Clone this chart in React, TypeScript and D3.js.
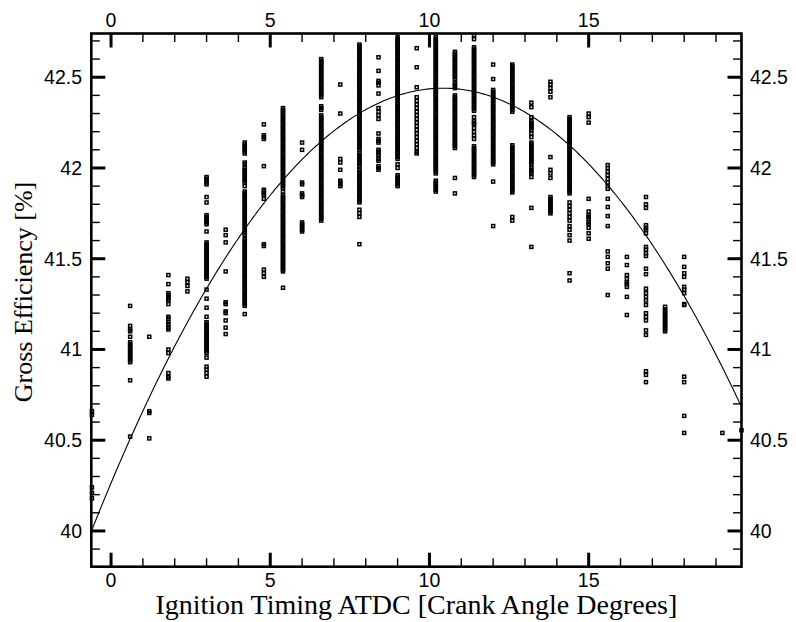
import React from "react";
import * as d3 from "d3";

const W = 796;
const H = 622;

// axis domains and ticks
const xDomain = [-0.62, 19.8];
const yDomain = [39.803, 42.741];
const xMajorTicks = [0, 5, 10, 15];
const xMinorTicks = [1, 2, 3, 4, 6, 7, 8, 9, 11, 12, 13, 14, 16, 17, 18, 19];
const yMajorTicks = [40, 40.5, 41, 41.5, 42, 42.5];
const yMinorTicks = [39.9, 40.1, 40.2, 40.3, 40.4, 40.6, 40.7, 40.8, 40.9, 41.1, 41.2, 41.3, 41.4, 41.6, 41.7, 41.8, 41.9, 42.1, 42.2, 42.3, 42.4, 42.6, 42.7];

// quadratic fit: y = c0 + c1*x + c2*x^2
const fitCoefficients = [40.264, 0.4172, -0.02];

// measured gross efficiency per ignition timing column
const colM06 = [40.66, 40.64, 40.24, 40.21, 40.18];
const col0_6 = [41.24, 41.13, 41.11, 41.1, 41.07, 41.04, 41.03, 41.02, 41.01, 41.0, 40.99, 40.98, 40.97, 40.96, 40.95, 40.94, 40.93, 40.83, 40.52];
const col1_2 = [41.07, 40.66, 40.65, 40.51];
const col1_8 = [41.41, 41.36, 41.31, 41.3, 41.29, 41.28, 41.27, 41.25, 41.18, 41.17, 41.15, 41.14, 41.12, 41.11, 41.0, 40.98, 40.87, 40.85, 40.84];
const col2_4 = [41.39, 41.37, 41.35, 41.32];
const col3_0 = [41.95, 41.94, 41.93, 41.92, 41.91, 41.84, 41.81, 41.74, 41.73, 41.72, 41.71, 41.7, 41.69, 41.65, 41.59, 41.58, 41.57, 41.56, 41.55, 41.54, 41.53, 41.52, 41.51, 41.5, 41.49, 41.48, 41.47, 41.46, 41.45, 41.44, 41.43, 41.42, 41.41, 41.4, 41.39, 41.33, 41.28, 41.23, 41.18, 41.15, 41.14, 41.13, 41.12, 41.11, 41.1, 41.09, 41.08, 41.07, 41.06, 41.05, 41.04, 41.03, 41.02, 41.01, 41.0, 40.99, 40.98, 40.955, 40.905, 40.89, 40.87, 40.85];
const col3_6 = [41.66, 41.63, 41.59, 41.43, 41.26, 41.25, 41.21, 41.2, 41.16, 41.12, 41.085];
const col4_2 = [42.14, 42.13, 42.12, 42.11, 42.1, 42.09, 42.08, 42.03, 42.02, 42.0, 41.99, 41.98, 41.97, 41.96, 41.95, 41.94, 41.93, 41.92, 41.9, 41.87, 41.86, 41.85, 41.84, 41.83, 41.82, 41.81, 41.8, 41.79, 41.78, 41.77, 41.76, 41.75, 41.74, 41.73, 41.72, 41.71, 41.7, 41.69, 41.68, 41.67, 41.66, 41.65, 41.64, 41.63, 41.61, 41.6, 41.59, 41.58, 41.57, 41.56, 41.55, 41.54, 41.53, 41.52, 41.51, 41.5, 41.49, 41.48, 41.47, 41.46, 41.45, 41.44, 41.43, 41.42, 41.41, 41.4, 41.39, 41.38, 41.37, 41.36, 41.35, 41.34, 41.33, 41.32, 41.31, 41.3, 41.29, 41.28, 41.27, 41.26, 41.25, 41.24, 41.195];
const col4_8 = [42.24, 42.18, 42.17, 42.16, 42.01, 41.88, 41.87, 41.86, 41.85, 41.83, 41.58, 41.57, 41.44, 41.42, 41.4];
const col5_4 = [42.33, 42.32, 42.31, 42.3, 42.29, 42.28, 42.27, 42.26, 42.25, 42.24, 42.23, 42.22, 42.21, 42.2, 42.19, 42.18, 42.17, 42.16, 42.15, 42.14, 42.13, 42.12, 42.11, 42.1, 42.09, 42.08, 42.07, 42.06, 42.05, 42.04, 42.03, 42.02, 42.01, 42.0, 41.99, 41.98, 41.97, 41.96, 41.95, 41.94, 41.93, 41.92, 41.91, 41.9, 41.89, 41.87, 41.85, 41.84, 41.83, 41.82, 41.81, 41.8, 41.79, 41.78, 41.77, 41.76, 41.75, 41.74, 41.73, 41.72, 41.71, 41.7, 41.69, 41.68, 41.67, 41.66, 41.65, 41.64, 41.63, 41.62, 41.61, 41.6, 41.59, 41.58, 41.57, 41.56, 41.55, 41.54, 41.53, 41.52, 41.51, 41.5, 41.49, 41.48, 41.47, 41.46, 41.45, 41.44, 41.43, 41.34];
const col6_0 = [42.14, 42.1, 41.92, 41.91, 41.86, 41.85, 41.84, 41.7, 41.69, 41.68, 41.67, 41.66, 41.65];
const col6_6 = [42.6, 42.59, 42.58, 42.57, 42.56, 42.55, 42.54, 42.53, 42.52, 42.51, 42.5, 42.49, 42.48, 42.47, 42.46, 42.45, 42.44, 42.43, 42.42, 42.41, 42.4, 42.39, 42.34, 42.33, 42.32, 42.29, 42.28, 42.27, 42.26, 42.25, 42.24, 42.23, 42.22, 42.21, 42.2, 42.19, 42.18, 42.17, 42.16, 42.15, 42.14, 42.13, 42.12, 42.11, 42.1, 42.09, 42.08, 42.07, 42.06, 42.05, 42.04, 42.03, 42.02, 42.01, 42.0, 41.99, 41.98, 41.97, 41.96, 41.95, 41.94, 41.93, 41.92, 41.91, 41.9, 41.89, 41.88, 41.87, 41.86, 41.85, 41.84, 41.83, 41.82, 41.81, 41.8, 41.79, 41.78, 41.77, 41.76, 41.75, 41.74, 41.73, 41.72, 41.71];
const col7_2 = [42.46, 42.3, 42.05, 42.03, 41.99, 41.93, 41.92, 41.91, 41.9];
const col7_8 = [42.68, 42.67, 42.66, 42.65, 42.64, 42.63, 42.62, 42.61, 42.6, 42.59, 42.58, 42.57, 42.56, 42.55, 42.54, 42.53, 42.52, 42.51, 42.5, 42.49, 42.48, 42.47, 42.46, 42.45, 42.44, 42.43, 42.42, 42.41, 42.4, 42.39, 42.38, 42.37, 42.36, 42.35, 42.34, 42.33, 42.32, 42.31, 42.3, 42.29, 42.28, 42.27, 42.26, 42.25, 42.24, 42.23, 42.22, 42.21, 42.2, 42.19, 42.18, 42.17, 42.16, 42.15, 42.14, 42.13, 42.12, 42.11, 42.1, 42.08, 42.07, 42.06, 42.05, 42.04, 42.03, 42.02, 42.01, 41.99, 41.98, 41.97, 41.96, 41.95, 41.94, 41.93, 41.92, 41.91, 41.9, 41.89, 41.88, 41.87, 41.86, 41.85, 41.84, 41.83, 41.82, 41.81, 41.77, 41.75, 41.73, 41.58];
const col8_4 = [42.61, 42.535, 42.48, 42.47, 42.455, 42.41, 42.33, 42.31, 42.29, 42.27, 42.19, 42.16, 42.15, 42.14, 42.1, 42.09, 42.08, 42.07, 42.05, 42.04, 42.01, 42.0, 41.99];
const col9_0 = [42.72, 42.71, 42.7, 42.69, 42.68, 42.67, 42.66, 42.65, 42.64, 42.63, 42.62, 42.61, 42.6, 42.59, 42.58, 42.57, 42.56, 42.55, 42.54, 42.53, 42.52, 42.51, 42.5, 42.49, 42.48, 42.47, 42.46, 42.45, 42.44, 42.43, 42.42, 42.41, 42.4, 42.39, 42.38, 42.37, 42.36, 42.35, 42.34, 42.33, 42.32, 42.31, 42.3, 42.29, 42.28, 42.27, 42.26, 42.25, 42.24, 42.23, 42.22, 42.21, 42.2, 42.19, 42.18, 42.17, 42.16, 42.15, 42.14, 42.13, 42.12, 42.11, 42.1, 42.09, 42.08, 42.07, 42.06, 42.05, 42.02, 42.0, 41.96, 41.95, 41.94, 41.93, 41.92, 41.91, 41.9];
const col9_6 = [42.66, 42.555, 42.445, 42.39, 42.37, 42.35, 42.33, 42.31, 42.29, 42.27, 42.25, 42.23, 42.21, 42.19, 42.17, 42.15, 42.13, 42.11, 42.09, 42.08];
const col10_2 = [42.72, 42.71, 42.7, 42.69, 42.68, 42.67, 42.66, 42.65, 42.64, 42.63, 42.62, 42.61, 42.6, 42.59, 42.58, 42.57, 42.56, 42.55, 42.54, 42.53, 42.52, 42.51, 42.5, 42.49, 42.48, 42.47, 42.46, 42.45, 42.44, 42.43, 42.42, 42.41, 42.4, 42.39, 42.38, 42.37, 42.36, 42.35, 42.34, 42.33, 42.32, 42.31, 42.3, 42.29, 42.28, 42.27, 42.26, 42.25, 42.24, 42.23, 42.22, 42.21, 42.2, 42.19, 42.18, 42.17, 42.16, 42.15, 42.14, 42.13, 42.12, 42.11, 42.1, 42.09, 42.08, 42.07, 42.06, 42.05, 42.04, 42.03, 42.02, 42.01, 42.0, 41.99, 41.98, 41.97, 41.93, 41.92, 41.91, 41.9, 41.89, 41.88, 41.87];
const col10_8 = [42.64, 42.63, 42.62, 42.61, 42.6, 42.59, 42.58, 42.57, 42.56, 42.55, 42.54, 42.53, 42.52, 42.51, 42.5, 42.49, 42.47, 42.46, 42.45, 42.44, 42.4, 42.39, 42.38, 42.37, 42.36, 42.35, 42.34, 42.33, 42.32, 42.31, 42.3, 42.29, 42.28, 42.27, 42.26, 42.25, 42.24, 42.23, 42.22, 42.21, 42.2, 42.19, 42.18, 42.17, 42.16, 42.15, 42.14, 42.13, 42.12, 42.11, 41.945, 41.86];
const col11_4 = [42.73, 42.71, 42.665, 42.655, 42.645, 42.635, 42.625, 42.615, 42.605, 42.595, 42.585, 42.575, 42.565, 42.555, 42.545, 42.535, 42.525, 42.515, 42.505, 42.495, 42.485, 42.475, 42.465, 42.455, 42.445, 42.435, 42.425, 42.415, 42.405, 42.395, 42.385, 42.375, 42.365, 42.355, 42.345, 42.335, 42.325, 42.315, 42.28, 42.26, 42.25, 42.24, 42.22, 42.2, 42.18, 42.16, 42.12, 42.11, 42.1, 42.09, 42.08, 42.07, 42.06, 42.05, 42.04, 42.03, 42.02, 42.01, 42.0, 41.99, 41.98, 41.97, 41.96, 41.95];
const col12_0 = [42.57, 42.49, 42.43, 42.42, 42.41, 42.4, 42.39, 42.38, 42.37, 42.36, 42.35, 42.34, 42.33, 42.32, 42.31, 42.3, 42.29, 42.28, 42.27, 42.26, 42.25, 42.24, 42.23, 42.22, 42.21, 42.2, 42.19, 42.18, 42.17, 42.16, 42.15, 42.14, 42.13, 42.12, 42.11, 42.1, 42.09, 42.08, 42.07, 42.06, 42.05, 42.04, 42.03, 42.02, 41.925, 41.68];
const col12_6 = [42.57, 42.56, 42.55, 42.54, 42.53, 42.52, 42.51, 42.5, 42.49, 42.48, 42.47, 42.46, 42.45, 42.44, 42.43, 42.42, 42.41, 42.4, 42.39, 42.38, 42.37, 42.36, 42.35, 42.34, 42.33, 42.32, 42.31, 42.125, 42.115, 42.105, 42.095, 42.085, 42.075, 42.065, 42.055, 42.045, 42.035, 42.025, 42.015, 42.005, 41.995, 41.985, 41.975, 41.965, 41.955, 41.945, 41.935, 41.925, 41.915, 41.905, 41.895, 41.885, 41.875, 41.865, 41.73, 41.71];
const col13_2 = [42.36, 42.335, 42.28, 42.26, 42.25, 42.24, 42.23, 42.22, 42.21, 42.19, 42.17, 42.14, 42.13, 42.12, 42.11, 42.1, 42.09, 42.08, 42.07, 42.06, 42.05, 42.04, 42.03, 42.02, 42.0, 41.99, 41.98, 41.97, 41.95, 41.78, 41.565];
const col13_8 = [42.475, 42.46, 42.44, 42.42, 42.39, 42.06, 41.99, 41.97, 41.945, 41.84, 41.83, 41.82, 41.81, 41.8, 41.79, 41.78, 41.77, 41.76, 41.75];
const col14_4 = [42.28, 42.27, 42.26, 42.25, 42.24, 42.23, 42.22, 42.21, 42.2, 42.19, 42.18, 42.17, 42.16, 42.15, 42.14, 42.13, 42.12, 42.11, 42.1, 42.09, 42.08, 42.07, 42.06, 42.05, 42.04, 42.03, 42.02, 42.01, 42.0, 41.99, 41.98, 41.97, 41.96, 41.95, 41.94, 41.93, 41.92, 41.91, 41.9, 41.89, 41.88, 41.87, 41.86, 41.81, 41.79, 41.77, 41.75, 41.73, 41.71, 41.68, 41.66, 41.63, 41.6, 41.42, 41.38];
const col15_0 = [42.3, 42.28, 42.25, 41.83, 41.76, 41.74, 41.73, 41.72, 41.7, 41.69, 41.67, 41.64, 41.61];
const col15_6 = [42.016, 42.0, 41.98, 41.96, 41.94, 41.92, 41.9, 41.885, 41.83, 41.785, 41.735, 41.68, 41.54, 41.51, 41.475, 41.445, 41.3];
const col16_2 = [41.51, 41.465, 41.41, 41.39, 41.37, 41.36, 41.345, 41.29, 41.19];
const col16_8 = [41.84, 41.8, 41.78, 41.685, 41.67, 41.66, 41.64, 41.565, 41.55, 41.53, 41.515, 41.445, 41.415, 41.335, 41.31, 41.29, 41.27, 41.245, 41.2, 41.18, 41.16, 41.105, 41.08, 40.88, 40.86, 40.82];
const col17_4 = [41.235, 41.22, 41.21, 41.2, 41.19, 41.18, 41.17, 41.16, 41.15, 41.14, 41.13, 41.12, 41.11, 41.1];
const col18_0 = [41.51, 41.455, 41.42, 41.4, 41.345, 41.33, 41.31, 41.25, 41.245, 40.85, 40.82, 40.634, 40.54];
const col19_2 = [40.54];
const col19_8 = [40.555];

const timingColumns = [-0.6, 0.6, 1.2, 1.8, 2.4, 3.0, 3.6, 4.2, 4.8, 5.4, 6.0, 6.6, 7.2, 7.8, 8.4, 9.0, 9.6, 10.2, 10.8, 11.4, 12.0, 12.6, 13.2, 13.8, 14.4, 15.0, 15.6, 16.2, 16.8, 17.4, 18.0, 19.2, 19.8];
const efficiencyColumns = [colM06, col0_6, col1_2, col1_8, col2_4, col3_0, col3_6, col4_2, col4_8, col5_4, col6_0, col6_6, col7_2, col7_8, col8_4, col9_0, col9_6, col10_2, col10_8, col11_4, col12_0, col12_6, col13_2, col13_8, col14_4, col15_0, col15_6, col16_2, col16_8, col17_4, col18_0, col19_2, col19_8];

const xLabel = "Ignition Timing ATDC [Crank Angle Degrees]";
const yLabel = "Gross Efficiency [%]";

export default function App() {
  const left = 91.3, right = 741.5, top = 33.5, bottom = 566.7;
  const x = d3.scaleLinear().domain(xDomain).range([left, right]);
  const y = d3.scaleLinear().domain(yDomain).range([bottom, top]);

  const points: { px: number; py: number }[] = [];
  timingColumns.forEach((t, i) => {
    efficiencyColumns[i].forEach((v) => points.push({ px: x(t), py: y(v) }));
  });

  const fit = (t: number) => fitCoefficients[0] + fitCoefficients[1] * t + fitCoefficients[2] * t * t;
  const curveXs = d3.range(xDomain[0], xDomain[1] + 0.001, 0.05);
  const line = d3
    .line<number>()
    .x((t) => x(t))
    .y((t) => y(fit(t)))
    .curve(d3.curveLinear);

  const tickFont = "'Liberation Sans', Arial, sans-serif";
  const titleFont = "'Liberation Serif', 'Times New Roman', serif";
  const majorLen = 14, minorLen = 8.5;
  const sq = 3.0;

  return (
    <svg width={W} height={H} style={{ position: "absolute", left: 0, top: 0, background: "#fff" }}>
      <rect x={0} y={0} width={W} height={H} fill="#fff" />
      {/* points */}
      <g fill="none" stroke="#000" strokeWidth={1.5}>
        {points.map((p, i) => (
          <rect key={i} x={p.px - sq / 2} y={p.py - sq / 2} width={sq} height={sq} />
        ))}
      </g>
      {/* fit curve */}
      <path d={line(curveXs) || ""} fill="none" stroke="#000" strokeWidth={1.1} />
      {/* ticks */}
      <g stroke="#000">
        {xMajorTicks.map((t) => (
          <g key={"xm" + t} strokeWidth={3}>
            <line x1={x(t)} x2={x(t)} y1={bottom} y2={bottom - majorLen} />
            <line x1={x(t)} x2={x(t)} y1={top} y2={top + majorLen} />
          </g>
        ))}
        {xMinorTicks.map((t) => (
          <g key={"xn" + t} strokeWidth={1.4}>
            <line x1={x(t)} x2={x(t)} y1={bottom} y2={bottom - minorLen} />
            <line x1={x(t)} x2={x(t)} y1={top} y2={top + minorLen} />
          </g>
        ))}
        {yMajorTicks.map((t) => (
          <g key={"ym" + t} strokeWidth={3}>
            <line x1={left} x2={left + majorLen} y1={y(t)} y2={y(t)} />
            <line x1={right} x2={right - majorLen} y1={y(t)} y2={y(t)} />
          </g>
        ))}
        {yMinorTicks.map((t) => (
          <g key={"yn" + t} strokeWidth={1.4}>
            <line x1={left} x2={left + minorLen} y1={y(t)} y2={y(t)} />
            <line x1={right} x2={right - minorLen} y1={y(t)} y2={y(t)} />
          </g>
        ))}
      </g>
      {/* frame */}
      <rect x={left} y={top} width={right - left} height={bottom - top} fill="none" stroke="#000" strokeWidth={2.6} />
      {/* tick labels */}
      <g fontFamily={tickFont} fontSize={19.5} fill="#000">
        {xMajorTicks.map((t) => (
          <g key={"xl" + t}>
            <text x={x(t)} y={586.5} textAnchor="middle">{t}</text>
            <text x={x(t)} y={27} textAnchor="middle">{t}</text>
          </g>
        ))}
        {yMajorTicks.map((t) => (
          <g key={"yl" + t}>
            <text x={82} y={y(t)} dy="0.36em" textAnchor="end">{t}</text>
            <text x={750} y={y(t)} dy="0.36em" textAnchor="start">{t}</text>
          </g>
        ))}
      </g>
      {/* axis titles */}
      <text x={(left + right) / 2} y={614} textAnchor="middle" fontFamily={titleFont} fontSize={28} fill="#000">
        {xLabel}
      </text>
      <text
        transform={`translate(32,292) rotate(-90)`}
        textAnchor="middle"
        fontFamily={titleFont}
        fontSize={26}
        fill="#000"
      >
        {yLabel}
      </text>
    </svg>
  );
}
